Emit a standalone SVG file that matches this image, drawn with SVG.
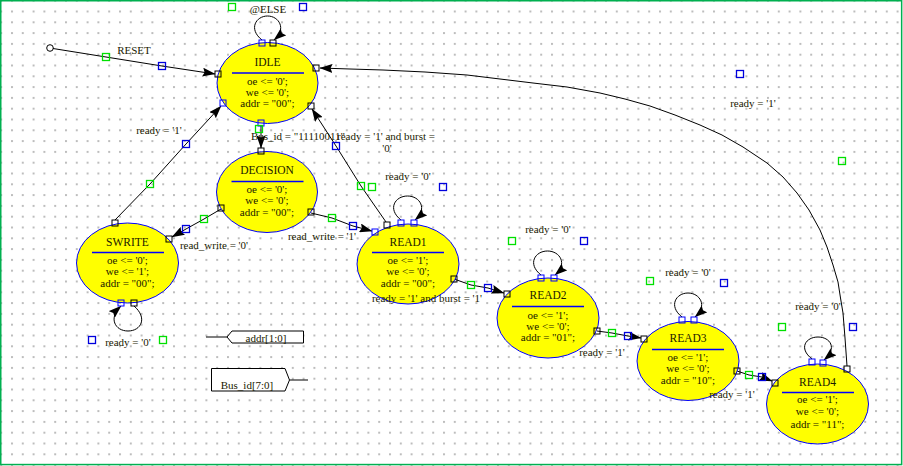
<svg xmlns="http://www.w3.org/2000/svg" width="903" height="466" viewBox="0 0 903 466">
<defs>
<pattern id="grid" x="11" y="10.5" width="10.8" height="10.8" patternUnits="userSpaceOnUse">
<rect x="0" y="0" width="2" height="2" fill="#bdbdbd"/>
</pattern>
<marker id="ah" viewBox="0 0 13 9" refX="12.5" refY="4.5" markerWidth="13" markerHeight="9" markerUnits="userSpaceOnUse" orient="auto">
<path d="M0,0 L13,4.5 L0,9 L2,4.5 z" fill="#000"/>
</marker>
<style>
text{font-family:"Liberation Serif","Times New Roman",serif;font-size:11px;fill:#1a1a00;text-anchor:middle}
.st ellipse{fill:#ffff00;stroke:#0000ff;stroke-width:1}
.st line{stroke:#0000ff;stroke-width:1.5}
.tt{font-size:11.5px}
.c{fill:none;stroke:#000;stroke-width:1;marker-end:url(#ah)}
.p{fill:none;stroke:#000;stroke-width:1}
.pb{fill:none;stroke:#0000ff;stroke-width:1}
.g{fill:none;stroke:#00e000;stroke-width:1.3}
.b{fill:none;stroke:#0000dd;stroke-width:1.3}
.sig{fill:#fff;stroke:#000;stroke-width:1}
</style>
</defs>
<rect x="0" y="0" width="903" height="466" fill="#fff"/>
<rect x="0" y="0" width="903" height="466" fill="url(#grid)"/>
<rect x="0.75" y="0.75" width="900.9" height="463.8" fill="none" stroke="#00b050" stroke-width="1.5"/>

<g id="connectors">
<circle cx="50" cy="48" r="3.3" fill="#fff" stroke="#000" stroke-width="1"/>
<path class="c" d="M53 48.5 L106 57 L162 66 L215 74"/>
<path class="c" d="M262 40 C248 29 256 16 267.5 16 C279 16 287 29 274 40"/>
<path class="c" d="M261 126 L261 148"/>
<path class="c" d="M115 220 L150 184 L186 144 L221 106"/>
<path class="c" d="M386 222 L361 186 L336 146 L312 109"/>
<path class="c" d="M221 209 L204 219 L186 229 L172 237"/>
<path class="c" d="M311 213 L332 218 L353 226 L372 231"/>
<path class="c" d="M134 306 C148 318 141 331 128 331 C115 331 108 318 121 306"/>
<path class="c" d="M401 220 C387 209 395 196 407.5 196 C420 196 428 209 415 220"/>
<path class="c" d="M454 279 L471 285 L488 288 L504 293"/>
<path class="c" d="M541 275 C527 264 535 251 547.5 251 C560 251 568 264 555 275"/>
<path class="c" d="M597 331 L612 333 L628 336 L641 338"/>
<path class="c" d="M682 317 C668 306 676 293 688 293 C700 293 708 306 695 317"/>
<path class="c" d="M737 371 L749 375 L762 377 L772 381"/>
<path class="c" d="M812 359 C798 348 806 337 818 337 C830 337 838 348 824 360"/>
<path class="c" d="M847 366 L845 338 L843 313 L840.5 298 L838 282 L833 265 L827 247 L820 230 L809 210 L797 193 L783 177 L767 163 L743 147 L722 135 L700 125 L675 115 L650 106 L625 99 L600 93 L567 87 L533 83 L500 79 L467 75 L425 72 L383 70 L350 69 L320 68"/>
</g>

<g id="IDLE" class="st">
<ellipse cx="267.5" cy="83" rx="50.5" ry="40.5"/>
<text class="tt" x="267.5" y="66">IDLE</text>
<line x1="232" y1="73" x2="304" y2="73"/>
<text x="267.5" y="85">oe &lt;= '0';</text>
<text x="267.5" y="96">we &lt;= '0';</text>
<text x="267.5" y="107">addr = "00";</text>
</g>
<g id="DECISION" class="st">
<ellipse cx="267" cy="192" rx="50.5" ry="40.5"/>
<text class="tt" x="267" y="174">DECISION</text>
<line x1="231.5" y1="181.5" x2="303.5" y2="181.5"/>
<text x="267" y="193">oe &lt;= '0';</text>
<text x="267" y="204">we &lt;= '0';</text>
<text x="267" y="216">addr = "00";</text>
</g>
<g id="SWRITE" class="st">
<ellipse cx="127.5" cy="263" rx="51" ry="40"/>
<text class="tt" x="127.5" y="246">SWRITE</text>
<line x1="92" y1="252.5" x2="164" y2="252.5"/>
<text x="127.5" y="264">oe &lt;= '0';</text>
<text x="127.5" y="275">we &lt;= '1';</text>
<text x="127.5" y="287">addr = "00";</text>
</g>
<g id="READ1" class="st">
<ellipse cx="408" cy="264" rx="51" ry="40"/>
<text class="tt" x="408" y="246">READ1</text>
<line x1="372" y1="252.5" x2="444" y2="252.5"/>
<text x="408" y="264">oe &lt;= '1';</text>
<text x="408" y="275">we &lt;= '0';</text>
<text x="408" y="287">addr = "00";</text>
</g>
<g id="READ2" class="st">
<ellipse cx="548" cy="318" rx="51" ry="40"/>
<text class="tt" x="548" y="299">READ2</text>
<line x1="512" y1="306.5" x2="584" y2="306.5"/>
<text x="548" y="319">oe &lt;= '1';</text>
<text x="548" y="330">we &lt;= '0';</text>
<text x="548" y="341">addr = "01";</text>
</g>
<g id="READ3" class="st">
<ellipse cx="688" cy="361" rx="51" ry="39.5"/>
<text class="tt" x="688" y="342">READ3</text>
<line x1="652" y1="349.5" x2="724" y2="349.5"/>
<text x="688" y="361">oe &lt;= '1';</text>
<text x="688" y="372">we &lt;= '0';</text>
<text x="688" y="384">addr = "10";</text>
</g>
<g id="READ4" class="st">
<ellipse cx="817.5" cy="404" rx="51" ry="40"/>
<text class="tt" x="817.5" y="386">READ4</text>
<line x1="782" y1="392.5" x2="854" y2="392.5"/>
<text x="817.5" y="403">oe &lt;= '1';</text>
<text x="817.5" y="415">we &lt;= '0';</text>
<text x="817.5" y="428">addr = "11";</text>
</g>

<g id="ports">
<rect class="pb" x="259" y="40" width="6" height="6"/>
<rect class="p" x="270" y="40" width="6" height="6"/>
<rect class="p" x="215" y="71" width="6" height="6"/>
<rect class="p" x="313" y="65" width="6" height="6"/>
<rect class="pb" x="258" y="120" width="6" height="6"/>
<rect class="pb" x="220" y="100" width="6" height="6"/>
<rect class="p" x="308" y="103" width="6" height="6"/>
<rect class="p" x="258" y="148" width="6" height="6"/>
<rect class="p" x="218" y="205" width="6" height="6"/>
<rect class="p" x="308" y="209" width="6" height="6"/>
<rect class="p" x="112" y="220" width="6" height="6"/>
<rect class="p" x="166" y="236" width="6" height="6"/>
<rect class="pb" x="118" y="300" width="6" height="6"/>
<rect class="p" x="131" y="300" width="6" height="6"/>
<rect class="p" x="384" y="222" width="6" height="6"/>
<rect class="pb" x="372" y="229" width="6" height="6"/>
<rect class="pb" x="398" y="220" width="6" height="6"/>
<rect class="pb" x="411" y="220" width="6" height="6"/>
<rect class="p" x="451" y="276" width="6" height="6"/>
<rect class="p" x="504" y="291" width="6" height="6"/>
<rect class="pb" x="538" y="275" width="6" height="6"/>
<rect class="pb" x="551" y="275" width="6" height="6"/>
<rect class="p" x="594" y="328" width="6" height="6"/>
<rect class="p" x="641" y="336" width="6" height="6"/>
<rect class="pb" x="679" y="317" width="6" height="6"/>
<rect class="pb" x="691" y="317" width="6" height="6"/>
<rect class="p" x="734" y="368" width="6" height="6"/>
<rect class="p" x="772" y="380" width="6" height="6"/>
<rect class="pb" x="809" y="359" width="6" height="6"/>
<rect class="pb" x="820" y="360" width="6" height="6"/>
<rect class="p" x="844" y="366" width="6" height="6"/>
</g>

<g id="handles">
<rect class="g" x="228.5" y="3.5" width="7" height="7"/>
<rect class="b" x="299.5" y="3.5" width="7" height="7"/>
<rect class="g" x="102.5" y="53.5" width="7" height="7"/>
<rect class="b" x="158.5" y="62.5" width="7" height="7"/>
<rect class="g" x="146.5" y="180.5" width="7" height="7"/>
<rect class="b" x="182.5" y="140.5" width="7" height="7"/>
<rect class="g" x="255.5" y="125.5" width="7" height="7"/>
<rect class="b" x="332.5" y="142.5" width="7" height="7"/>
<rect class="g" x="357.5" y="182.5" width="7" height="7"/>
<rect class="g" x="368.5" y="183.5" width="7" height="7"/>
<rect class="b" x="439.5" y="183.5" width="7" height="7"/>
<rect class="g" x="200.5" y="215.5" width="7" height="7"/>
<rect class="b" x="182.5" y="225.5" width="7" height="7"/>
<rect class="g" x="328.5" y="214.5" width="7" height="7"/>
<rect class="b" x="349.5" y="222.5" width="7" height="7"/>
<rect class="b" x="88.5" y="336.5" width="7" height="7"/>
<rect class="g" x="159.5" y="336.5" width="7" height="7"/>
<rect class="g" x="467.5" y="281.5" width="7" height="7"/>
<rect class="b" x="484.5" y="284.5" width="7" height="7"/>
<rect class="g" x="508.5" y="237.5" width="7" height="7"/>
<rect class="b" x="580.5" y="237.5" width="7" height="7"/>
<rect class="g" x="608.5" y="329.5" width="7" height="7"/>
<rect class="b" x="624.5" y="332.5" width="7" height="7"/>
<rect class="g" x="646.5" y="277.5" width="7" height="7"/>
<rect class="b" x="720.5" y="279.5" width="7" height="7"/>
<rect class="g" x="745.5" y="371.5" width="7" height="7"/>
<rect class="b" x="758.5" y="373.5" width="7" height="7"/>
<rect class="g" x="778.5" y="323.5" width="7" height="7"/>
<rect class="b" x="849.5" y="323.5" width="7" height="7"/>
<rect class="b" x="736.5" y="70.5" width="7" height="7"/>
<rect class="g" x="838.5" y="157.5" width="7" height="7"/>
</g>

<g id="labels">
<text x="268" y="13">@ELSE</text>
<text x="134" y="54">RESET</text>
<text x="159" y="134">ready = '1'</text>
<text x="298" y="140">Bus_id = "11110011"</text>
<text x="386" y="140">ready = '1' and burst =</text>
<text x="387" y="152">'0'</text>
<text x="408" y="180">ready = '0'</text>
<text x="214" y="249">read_write = '0'</text>
<text x="322" y="240">read_write = '1'</text>
<text x="128" y="346">ready = '0'</text>
<text x="427" y="302">ready = '1' and burst = '1'</text>
<text x="548" y="233">ready = '0'</text>
<text x="602" y="356">ready = '1'</text>
<text x="688" y="276">ready = '0'</text>
<text x="732" y="398">ready = '1'</text>
<text x="818" y="310">ready = '0'</text>
<text x="753" y="107">ready = '1'</text>
</g>

<g id="addr_port">
<line x1="206" y1="337" x2="227" y2="337" stroke="#000" stroke-width="1"/>
<path class="sig" d="M227 337 L232 331 L303.5 331 L303.5 343 L232 343 Z"/>
<text x="266" y="341.5">addr[1:0]</text>
</g>
<g id="bus_id_port">
<path class="sig" d="M211.5 368.5 L285 368.5 L289.5 380 L285 391 L211.5 391 Z"/>
<line x1="289.5" y1="380" x2="308" y2="380" stroke="#000" stroke-width="1"/>
<text x="247" y="389">Bus_id[7:0]</text>
</g>
</svg>
